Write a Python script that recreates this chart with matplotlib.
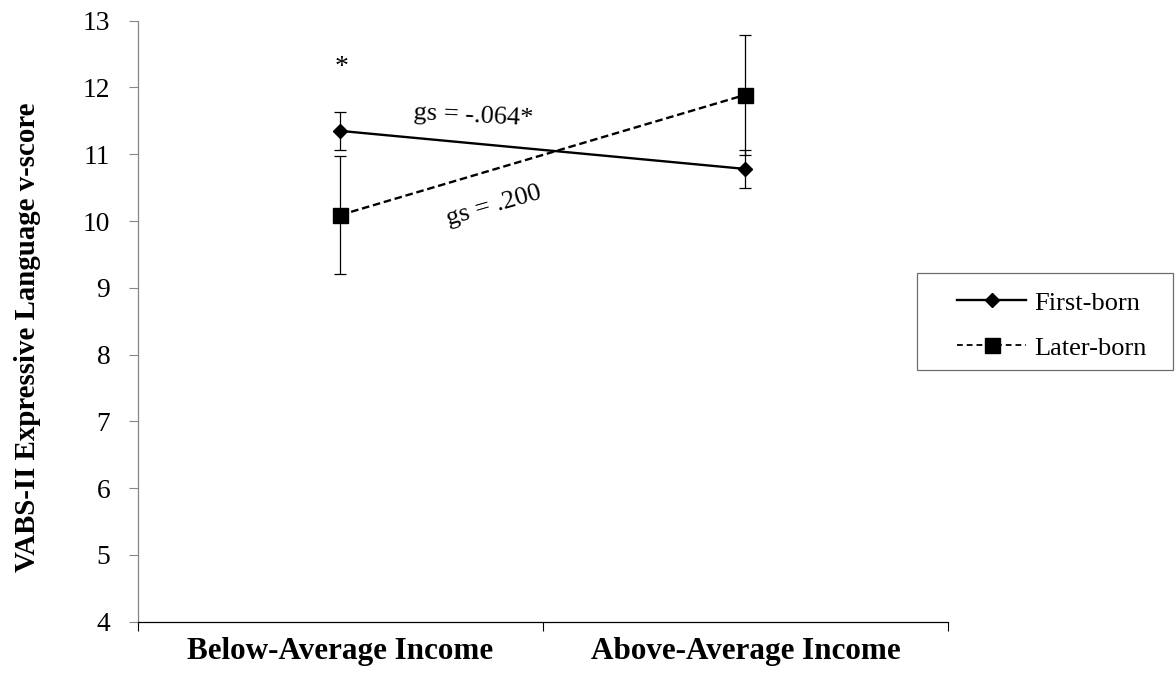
import matplotlib
matplotlib.use("Agg")
import matplotlib.pyplot as plt
from matplotlib.lines import Line2D
from matplotlib.patches import Rectangle

# ---- data -------------------------------------------------------------
categories = ["Below-Average Income", "Above-Average Income"]
first_born = [11.35, 10.78]
first_born_err = [0.29, 0.29]
later_born = [10.09, 11.89]
later_born_err = [0.89, 0.90]
y_ticks = [4, 5, 6, 7, 8, 9, 10, 11, 12, 13]
series_labels = ["First-born", "Later-born"]
effect_labels = ["gs = -.064*", "gs = .200"]
star_label = "*"

# ---- style ------------------------------------------------------------
SERIF = "Liberation Serif"
plt.rcParams["font.family"] = [SERIF, "DejaVu Serif"]

W, H = 1175, 677
fig = plt.figure(figsize=(W / 100, H / 100), dpi=100)

x0, x1 = 137.7, 948.0      # axes edges in px
ytop, ybot = 20.7, 621.7
ax = fig.add_axes([x0 / W, 1 - ybot / H, (x1 - x0) / W, (ybot - ytop) / H])

xpos = [0.5, 1.5]

# error bars
ax.errorbar(xpos, first_born, yerr=first_born_err, fmt="none", ecolor="black",
            elinewidth=0.9, capsize=4.3, capthick=0.9, zorder=2)
ax.errorbar(xpos, later_born, yerr=later_born_err, fmt="none", ecolor="black",
            elinewidth=0.9, capsize=4.3, capthick=0.9, zorder=2)

# series lines
ax.plot(xpos, first_born, color="black", lw=1.7, marker="D",
        markersize=7.2, markerfacecolor="black", markeredgecolor="black",
        zorder=3)
ax.plot(xpos, later_born, color="black", lw=1.7, marker="s",
        markersize=10.8, markerfacecolor="black", markeredgecolor="black",
        dashes=(3.2, 1.6), zorder=3)

# axes limits and ticks
ax.set_xlim(0, 2)
ax.set_ylim(4, 13)
ax.set_yticks(y_ticks)
ax.set_yticklabels([str(v) for v in y_ticks], fontsize=19.8)
ax.tick_params(axis="y", direction="out", length=6.7, width=0.8,
               color="#868686", pad=13)

ax.set_xticks([0, 1, 2])
ax.set_xticklabels([])
ax.tick_params(axis="x", which="major", direction="out", length=6.5, width=0.8,
               color="black")
ax.set_xticks(xpos, minor=True)
ax.set_xticklabels(categories, minor=True, fontsize=22.4, fontweight="bold")
ax.tick_params(axis="x", which="minor", length=0, pad=11)

for s in ("top", "right"):
    ax.spines[s].set_visible(False)
ax.spines["left"].set_color("#868686")
ax.spines["left"].set_linewidth(0.9)
ax.spines["bottom"].set_color("black")
ax.spines["bottom"].set_linewidth(0.9)

ax.set_ylabel("VABS-II Expressive Language v-score", fontsize=20.8,
              fontweight="bold")
ax.yaxis.set_label_coords(-0.119, 0.473)

# annotations
ax.text(0.502, 12.30, star_label, fontsize=20, ha="center", va="center")
ax.text(0.828, 11.57, effect_labels[0], fontsize=19, ha="center", va="center",
        rotation=-3, rotation_mode="anchor")
ax.text(0.88, 10.22, effect_labels[1], fontsize=19, ha="center", va="center",
        rotation=16, rotation_mode="anchor")

# legend with a separate frame
handles = [
    Line2D([], [], color="black", lw=1.7, marker="D", markersize=7.2),
    Line2D([], [], color="black", lw=1.3, marker="s", markersize=10.8,
           dashes=(3.2, 2.2)),
]
fig.legend(handles, series_labels, loc="upper left",
           bbox_to_anchor=(944 / W, 1 - 278 / H), frameon=False, borderpad=0,
           handlelength=2.6, handletextpad=0.3, labelspacing=0.81,
           prop={"family": SERIF, "size": 19})
fig.patches.append(Rectangle((917 / W, 1 - 370 / H), (1173 - 917) / W,
                             (370 - 273) / H, transform=fig.transFigure,
                             fill=False, edgecolor="#6e6e6e", lw=0.9))

fig.savefig("out.png", dpi=100)
